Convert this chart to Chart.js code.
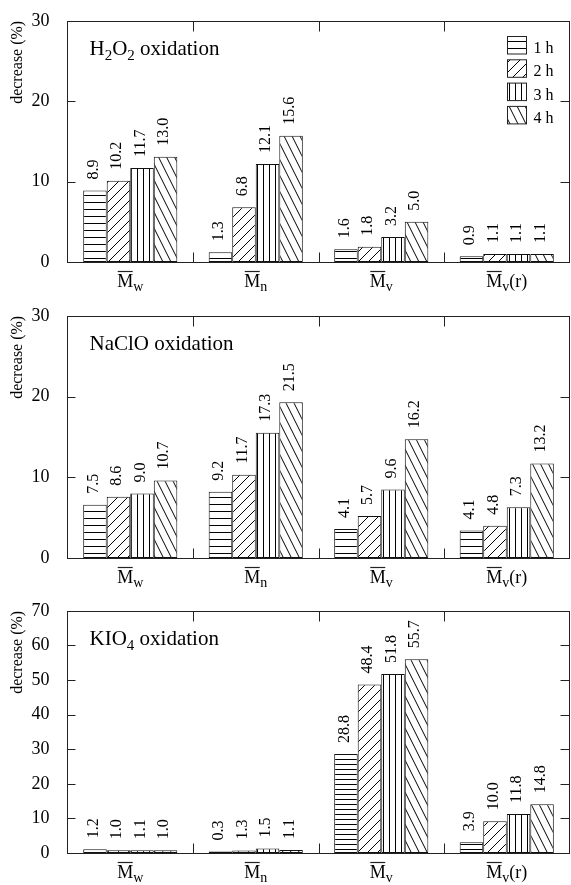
<!DOCTYPE html>
<html><head><meta charset="utf-8">
<script src="https://cdn.jsdelivr.net/npm/chart.js@4/dist/chart.umd.min.js"></script>
<style>
html,body{margin:0;padding:0;background:#fff;}
#wrap{width:571px;height:885px;position:relative;background:#fff;}
canvas{display:block;}
</style></head><body>
<div id="wrap">
<canvas id="c1" width="571" height="295"></canvas>
<canvas id="c2" width="571" height="295"></canvas>
<canvas id="c3" width="571" height="295"></canvas>
</div>
<script>
// ---------- data ----------
const categories = ['Mw', 'Mn', 'Mv', 'Mv(r)'];
const seriesNames = ['1 h', '2 h', '3 h', '4 h'];
const yTitle = 'decrease (%)';

// H2O2 oxidation : bar heights and printed labels
const h2o2_1h = [8.9, 1.2, 1.6, 0.7];
const h2o2_2h = [10.1, 6.8, 1.9, 1.0];
const h2o2_3h = [11.7, 12.2, 3.1, 1.0];
const h2o2_4h = [13.1, 15.7, 5.0, 1.0];
const h2o2Text_1h = ['8.9', '1.3', '1.6', '0.9'];
const h2o2Text_2h = ['10.2', '6.8', '1.8', '1.1'];
const h2o2Text_3h = ['11.7', '12.1', '3.2', '1.1'];
const h2o2Text_4h = ['13.0', '15.6', '5.0', '1.1'];

// NaClO oxidation
const naclo_1h = [6.6, 8.2, 3.6, 3.4];
const naclo_2h = [7.6, 10.3, 5.2, 4.0];
const naclo_3h = [8.0, 15.5, 8.5, 6.3];
const naclo_4h = [9.6, 19.3, 14.7, 11.7];
const nacloText_1h = ['7.5', '9.2', '4.1', '4.1'];
const nacloText_2h = ['8.6', '11.7', '5.7', '4.8'];
const nacloText_3h = ['9.0', '17.3', '9.6', '7.3'];
const nacloText_4h = ['10.7', '21.5', '16.2', '13.2'];

// KIO4 oxidation
const kio4_1h = [1.1, 0.4, 28.6, 3.1];
const kio4_2h = [0.8, 0.7, 48.7, 9.2];
const kio4_3h = [0.8, 1.3, 51.7, 11.3];
const kio4_4h = [0.8, 0.9, 56.0, 14.1];
const kio4Text_1h = ['1.2', '0.3', '28.8', '3.9'];
const kio4Text_2h = ['1.0', '1.3', '48.4', '10.0'];
const kio4Text_3h = ['1.1', '1.5', '51.8', '11.8'];
const kio4Text_4h = ['1.0', '1.1', '55.7', '14.8'];

const yMaxSmall = 30;
const yMaxLarge = 70;
const yStep = 10;

// ---------- rendering ----------
const SERIF = '"Liberation Serif", "Times New Roman", serif';
Chart.defaults.font.family = SERIF;
Chart.defaults.color = '#000';

function makePattern(ctx, kind, sp) {
  const c = document.createElement('canvas');
  let w, h;
  if (kind === 'h') { w = 8; h = sp; }
  else if (kind === 'v') { w = sp; h = 8; }
  else if (kind === 'f') { w = sp; h = sp; }
  else { w = sp; h = 2 * sp; }
  c.width = w; c.height = h;
  const g = c.getContext('2d');
  g.fillStyle = '#fff'; g.fillRect(0, 0, w, h);
  g.strokeStyle = '#000'; g.lineWidth = 1;
  g.beginPath();
  if (kind === 'h') { g.moveTo(0, h - 0.5); g.lineTo(w, h - 0.5); }
  else if (kind === 'v') { g.moveTo(w - 0.5, 0); g.lineTo(w - 0.5, h); }
  else if (kind === 'f') { for (let k = -1; k <= 1; k++) { g.moveTo(k * w, h); g.lineTo(k * w + w, 0); } }
  else { for (let k = -1; k <= 1; k++) { g.moveTo(k * w, 0); g.lineTo(k * w + w, h); } }
  g.stroke();
  return ctx.createPattern(c, 'repeat');
}

function drawRich(ctx, parts, x, y, mainSize, subSize, subDy) {
  let cx = x;
  ctx.textAlign = 'left';
  ctx.textBaseline = 'alphabetic';
  for (const [t, sub] of parts) {
    ctx.font = (sub ? subSize : mainSize) + 'px ' + SERIF;
    ctx.fillText(t, cx, y + (sub ? subDy : 0));
    cx += ctx.measureText(t).width;
  }
}

function makeChart(id, cfg) {
  const canvas = document.getElementById(id);
  const ctx = canvas.getContext('2d');
  const fills = [
    makePattern(ctx, 'h', cfg.hSp),
    makePattern(ctx, 'f', 10),
    makePattern(ctx, 'v', 6),
    makePattern(ctx, 'b', 8)
  ];
  const decor = {
    id: 'decor',
    afterDraw(chart) {
      const c = chart.ctx;
      const { left, right, top, bottom } = chart.chartArea;
      const xs = chart.scales.x, ys = chart.scales.y;
      const L = Math.floor(left) + 0.5, R = Math.floor(right) + 0.5;
      const T = Math.round(top) + 0.5, B = Math.round(bottom) + 0.5;
      c.save();
      c.strokeStyle = '#222';
      c.lineWidth = 1;
      c.strokeRect(L, T, R - L, B - T);
      c.beginPath();
      for (let v = yStep; v < cfg.max; v += yStep) {
        const py = Math.round(ys.getPixelForValue(v)) + 0.5;
        c.moveTo(L, py); c.lineTo(L + 8, py);
        c.moveTo(R - 9, py); c.lineTo(R, py);
      }
      for (let i = 1; i < categories.length; i++) {
        const px = Math.round((xs.getPixelForValue(i - 1) + xs.getPixelForValue(i)) / 2) + 0.5;
        c.moveTo(px, T); c.lineTo(px, T + 10);
        c.moveTo(px, B - 10); c.lineTo(px, B);
      }
      c.stroke();

      // value labels
      c.fillStyle = '#000';
      c.font = '16px ' + SERIF;
      cfg.texts.forEach((arr, i) => {
        const meta = chart.getDatasetMeta(i);
        arr.forEach((t, j) => {
          const el = meta.data[j];
          c.save();
          c.translate(el.x - 1.5, el.y - 11);
          c.rotate(-Math.PI / 2);
          c.textAlign = 'left';
          c.textBaseline = 'middle';
          c.fillText(t, 0, 0);
          c.restore();
        });
      });

      // category labels with overline and subscript
      categories.forEach((lab, i) => {
        const cx = xs.getPixelForValue(i);
        const main = lab[0], sub = lab[1], rest = lab.slice(2);
        c.font = '18px ' + SERIF;
        const mW = c.measureText(main).width;
        const rW = c.measureText(rest).width;
        c.font = '14px ' + SERIF;
        const sW = c.measureText(sub).width;
        const tot = mW + sW + rW;
        let sx = cx - tot / 2;
        const by = bottom + 24.5;
        c.textAlign = 'left'; c.textBaseline = 'alphabetic';
        c.font = '18px ' + SERIF;
        c.fillText(main, sx, by);
        c.beginPath();
        c.lineWidth = 1.2;
        c.moveTo(sx + 0.5, by - 15); c.lineTo(sx + mW - 0.5, by - 15);
        c.stroke();
        c.font = '14px ' + SERIF;
        c.fillText(sub, sx + mW, by + 4);
        c.font = '18px ' + SERIF;
        c.fillText(rest, sx + mW + sW, by);
      });

      // panel title
      drawRich(c, cfg.title, left + 22, top + 34, 21, 15, 5);

      // legend
      if (cfg.legend) {
        c.lineWidth = 1;
        seriesNames.forEach((n, i) => {
          const ly = 36.5 + i * 23.3;
          c.fillStyle = fills[i];
          c.fillRect(507.5, ly, 19, 17.5);
          c.strokeStyle = '#222';
          c.strokeRect(507.5, ly, 19, 17.5);
          c.fillStyle = '#000';
          c.font = '16px ' + SERIF;
          c.textAlign = 'left'; c.textBaseline = 'alphabetic';
          c.fillText(n, 533.5, ly + 16.5);
        });
      }
      c.restore();
    }
  };
  return new Chart(ctx, {
    type: 'bar',
    data: {
      labels: categories,
      datasets: cfg.series.map((d, i) => ({
        label: seriesNames[i], data: d,
        backgroundColor: fills[i], borderColor: '#111', borderWidth: 1,
        borderSkipped: false, categoryPercentage: 0.75, barPercentage: 1
      }))
    },
    options: {
      responsive: false, animation: false, devicePixelRatio: 1,
      layout: { padding: { top: cfg.top, right: 1.5, left: 0, bottom: 0 } },
      plugins: { legend: { display: false }, tooltip: { enabled: false } },
      scales: {
        x: {
          grid: { display: false }, border: { display: false },
          ticks: { display: false },
          afterFit(s) { s.height = cfg.xh; }
        },
        y: {
          min: 0, max: cfg.max,
          ticks: { stepSize: yStep, font: { family: SERIF, size: 18 }, color: '#000', padding: 10 },
          grid: { display: false }, border: { display: false },
          title: { display: true, text: yTitle, align: 'end', color: '#000',
                   font: { family: SERIF, size: 16 }, padding: { top: 8, bottom: 0 } },
          afterFit(s) { s.width = 67.5; }
        }
      }
    },
    plugins: [decor]
  });
}

makeChart('c1', {
  series: [h2o2_1h, h2o2_2h, h2o2_3h, h2o2_4h],
  texts: [h2o2Text_1h, h2o2Text_2h, h2o2Text_3h, h2o2Text_4h],
  max: yMaxSmall, top: 16, xh: 33, hSp: 7, legend: true,
  title: [['H', 0], ['2', 1], ['O', 0], ['2', 1], [' oxidation', 0]]
});
makeChart('c2', {
  series: [naclo_1h, naclo_2h, naclo_3h, naclo_4h],
  texts: [nacloText_1h, nacloText_2h, nacloText_3h, nacloText_4h],
  max: yMaxSmall, top: 17, xh: 32, hSp: 7, legend: false,
  title: [['NaClO oxidation', 0]]
});
makeChart('c3', {
  series: [kio4_1h, kio4_2h, kio4_3h, kio4_4h],
  texts: [kio4Text_1h, kio4Text_2h, kio4Text_3h, kio4Text_4h],
  max: yMaxLarge, top: 17, xh: 32, hSp: 5, legend: false,
  title: [['KIO', 0], ['4', 1], [' oxidation', 0]]
});
</script>
</body></html>
